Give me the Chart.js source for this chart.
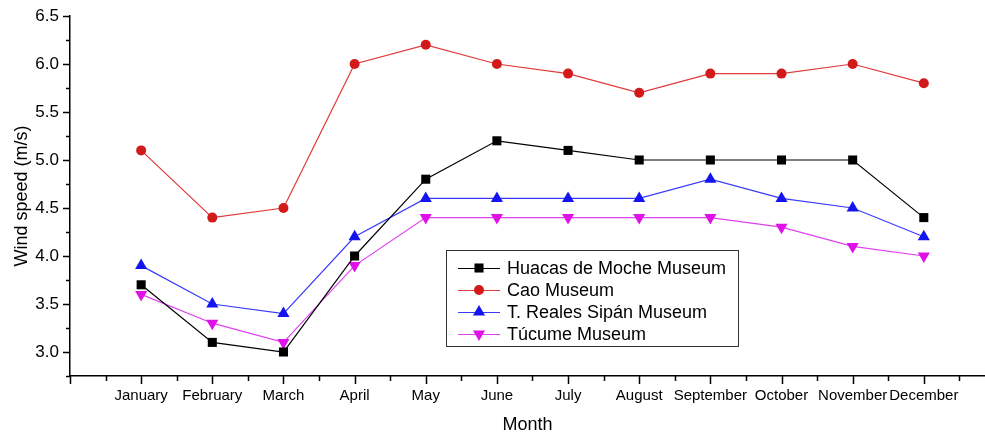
<!DOCTYPE html>
<html>
<head>
<meta charset="utf-8">
<script src="https://cdn.jsdelivr.net/npm/chart.js@4"></script>
<style>
html,body{margin:0;padding:0;background:#fff;}
#wrap{width:985px;height:435px;}
</style>
</head>
<body>
<div id="wrap"><canvas id="c" width="985" height="435"></canvas></div>
<script>
const months = ['January','February','March','April','May','June','July','August','September','October','November','December'];
const huacas = [3.7,3.1,3.0,4.0,4.8,5.2,5.1,5.0,5.0,5.0,5.0,4.4];
const cao    = [5.1,4.4,4.5,6.0,6.2,6.0,5.9,5.7,5.9,5.9,6.0,5.8];
const sipan  = [3.9,3.5,3.4,4.2,4.6,4.6,4.6,4.6,4.8,4.6,4.5,4.2];
const tucume = [3.6,3.3,3.1,3.9,4.4,4.4,4.4,4.4,4.4,4.3,4.1,4.0];
const seriesNames = ['Huacas de Moche Museum','Cao Museum','T. Reales Sipán Museum','Túcume Museum'];
const yTicks = [3.0,3.5,4.0,4.5,5.0,5.5,6.0,6.5];

const FONT = "'Liberation Sans', Arial, sans-serif";
const toPts = arr => arr.map((v,i)=>({x:i+1,y:v}));

function ds(label, data, line, fill, style, radius, rotation){
  return {label, data: toPts(data), borderColor: line, backgroundColor: fill,
    pointBackgroundColor: fill, pointBorderColor: fill, pointBorderWidth: 0,
    pointStyle: style, pointRadius: radius, pointHoverRadius: radius, pointRotation: rotation||0,
    borderWidth: 1.2, tension: 0, fill: false};
}

const tickPlugin = {
  id: 'ticksDraw',
  afterDraw(chart){
    const ctx = chart.ctx, x = chart.scales.x, y = chart.scales.y, a = chart.chartArea;
    ctx.save();
    ctx.strokeStyle = '#000'; ctx.lineWidth = 1.5;
    for (let v = 0; v <= x.max + 1e-9; v += 0.5){
      const px = Math.round(x.getPixelForValue(v)) + 0.5;
      const major = Math.abs(v - Math.round(v)) < 1e-9;
      ctx.beginPath(); ctx.moveTo(px, a.bottom); ctx.lineTo(px, a.bottom + (major ? 8 : 5)); ctx.stroke();
    }
    for (let v = 2.75; v <= 6.5 + 1e-9; v += 0.25){
      const py = Math.round(y.getPixelForValue(v)) + 0.5;
      const major = Math.abs(v*2 - Math.round(v*2)) < 1e-9;
      ctx.beginPath(); ctx.moveTo(a.left, py); ctx.lineTo(a.left - (major ? 7 : 4), py); ctx.stroke();
    }
    const bx = 446, by = 250, bw = 292, bh = 96;
    ctx.lineWidth = 1; ctx.strokeStyle = '#333';
    ctx.strokeRect(bx + 0.5, by + 0.5, bw, bh);
    ctx.font = '18px ' + FONT; ctx.textBaseline = 'middle'; ctx.textAlign = 'left';
    chart.data.datasets.forEach((d, i) => {
      const cy = by + 18 + i * 22;
      ctx.strokeStyle = d.borderColor; ctx.lineWidth = 1.2;
      ctx.beginPath(); ctx.moveTo(458, cy + 0.5); ctx.lineTo(500, cy + 0.5); ctx.stroke();
      ctx.fillStyle = d.pointBackgroundColor;
      ctx.strokeStyle = d.pointBackgroundColor;
      Chart.helpers.drawPoint(ctx, {pointStyle: d.pointStyle, radius: d.pointRadius, rotation: d.pointRotation, borderWidth: 0}, 479, cy);
      ctx.fillStyle = '#000';
      ctx.fillText(d.label, 507, cy + 1);
    });
    ctx.restore();
  }
};

new Chart(document.getElementById('c'), {
  type: 'line',
  data: { datasets: [
    ds(seriesNames[0], huacas, '#000000', '#000000', 'rect', 6.4, 0),
    ds(seriesNames[1], cao, '#e03a3a', '#d21a1a', 'circle', 5, 0),
    ds(seriesNames[2], sipan, '#3a3aff', '#1414f0', 'triangle', 7, 0),
    ds(seriesNames[3], tucume, '#e040f0', '#e010e8', 'triangle', 7, 180)
  ]},
  options: {
    responsive: false, animation: false, devicePixelRatio: 1,
    layout: { autoPadding: false, padding: { left: 0, right: 0, top: 16, bottom: 0 } },
    plugins: { legend: { display: false }, tooltip: { enabled: false } },
    scales: {
      x: {
        type: 'linear', min: 0, max: 12.86,
        afterBuildTicks: s => { s.ticks = months.map((m,i)=>({value:i+1})); },
        afterFit: s => { s.height = 59; s.paddingLeft = 0; s.paddingRight = 0; },
        ticks: { autoSkip: false, maxRotation: 0, padding: 11, color: '#000',
          font: { family: FONT, size: 15 },
          callback: v => months[Math.round(v)-1] || '' },
        grid: { display: false, drawTicks: false },
        border: { display: true, color: '#000', width: 1.5 },
        title: { display: true, text: 'Month', color: '#000', font: { family: FONT, size: 18 }, padding: { top: 4, bottom: -1 } }
      },
      y: {
        type: 'linear', min: 2.75, max: 6.5,
        afterBuildTicks: s => { s.ticks = yTicks.map(v=>({value:v})); },
        afterFit: s => { s.width = 70; s.paddingTop = 0; s.paddingBottom = 0; },
        ticks: { padding: 11, color: '#000', font: { family: FONT, size: 17 },
          callback: v => Number(v).toFixed(1) },
        grid: { display: false, drawTicks: false },
        border: { display: true, color: '#000', width: 1.5 },
        title: { display: true, text: 'Wind speed (m/s)', color: '#000', font: { family: FONT, size: 18 }, padding: { top: 11, bottom: 4 } }
      }
    }
  },
  plugins: [tickPlugin]
});
</script>
</body>
</html>
